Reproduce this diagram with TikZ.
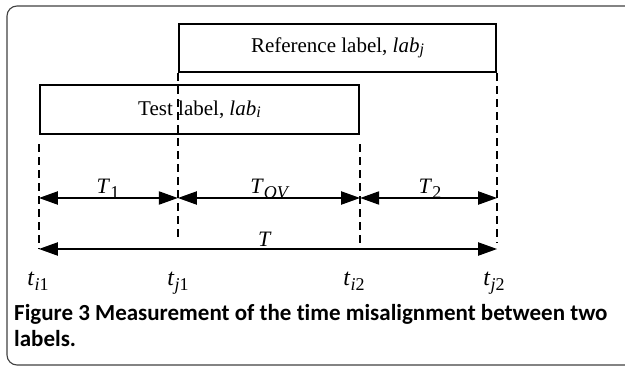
\documentclass[tikz,border=0pt]{standalone}
\usepackage{fontspec}
\setmainfont{Liberation Serif}
\newfontfamily\capfont[Ligatures=NoCommon]{Carlito}
\usetikzlibrary{arrows.meta}
\newcommand{\sbs}[1]{\raisebox{-5pt}{\fontsize{18}{18}\selectfont #1}}
\tikzset{ %
  ,>={Triangle[length=19pt,width=13pt]}
  ,frame/.style={draw=black!75, line width=1.1pt, rounded corners=10pt}
  ,labbox/.style={draw, line width=2.3pt, inner sep=0, font=\fontsize{21}{21}\selectfont}
  ,guide/.style={line width=1.8pt, dash pattern=on 8pt off 5pt}
  ,span/.style={<->, line width=2.1pt}
  ,dur/.style={anchor=base, inner sep=0, font=\fontsize{22}{22}\selectfont}
  ,tick/.style={anchor=base, inner sep=0, font=\fontsize{24}{24}\selectfont}
  ,capline/.style={anchor=base west, inner sep=0, font=\capfont\bfseries\fontsize{23}{23}\selectfont}
}
\begin{document}
\begin{tikzpicture}[x=1pt, y=-1pt]
    \useasboundingbox (0,0) rectangle (625,367);
    \draw[frame] (7,6) rectangle (636,365);
    % label boxes
    \node[labbox, minimum width=317pt, minimum height=48pt] (ref) at (337.5,48)
      {Reference label, \textit{lab}\raisebox{-2pt}{\fontsize{16}{16}\selectfont\textit{j}}};
    \node[labbox, minimum width=319pt, minimum height=49pt] (tst) at (199.5,109.5)
      {Test label, \textit{lab}\raisebox{-2pt}{\fontsize{16}{16}\selectfont\textit{i}}};
    % time marks
    \coordinate (ai) at (tst.south west |- 0,198);
    \coordinate (aj) at (ref.south west |- 0,198);
    \coordinate (bi) at (tst.south east |- 0,198);
    \coordinate (bj) at (ref.south east |- 0,198);
    \coordinate (ai2) at (tst.south west |- 0,249);
    \coordinate (aj2) at (ref.south west |- 0,241);
    \coordinate (bi2) at (tst.south east |- 0,249);
    \coordinate (bj2) at (ref.south east |- 0,249);
    \draw[guide] ([yshift=-9pt]tst.south west) -- (ai2);
    \draw[guide] (ref.south west) -- (aj2);
    \draw[guide] ([yshift=-9pt]tst.south east) -- (bi2);
    \draw[guide] (ref.south east) -- ([yshift=6pt]bj2);
    % spans
    \draw[span] (ai) -- (aj);
    \draw[span] (aj) -- (bi);
    \draw[span] (bi) -- (bj);
    \draw[span] (ai2) -- (bj2);
    \node[dur] (t1) at (108,193) {\textit{T}\sbs{1}};
    \node[dur] (tov) at (270,193) {\textit{T}\sbs{\textit{OV}}};
    \node[dur] (t2) at (430,193) {\textit{T}\sbs{2}};
    \node[dur] (tt) at (265,246) {\textit{T}};
    \node[tick] (ti1) at (38,285) {\textit{t}\sbs{\textit{i}1}};
    \node[tick] (tj1) at (178,285) {\textit{t}\sbs{\textit{j}1}};
    \node[tick] (ti2) at (354,285) {\textit{t}\sbs{\textit{i}2}};
    \node[tick] (tj2) at (494,285) {\textit{t}\sbs{\textit{j}2}};
    % caption
    \node[capline] (cap1) at (14,320) {Figure 3 Measurement of the time misalignment between two};
    \node[capline] (cap2) at (14,346) {labels.};
\end{tikzpicture}
\end{document}
